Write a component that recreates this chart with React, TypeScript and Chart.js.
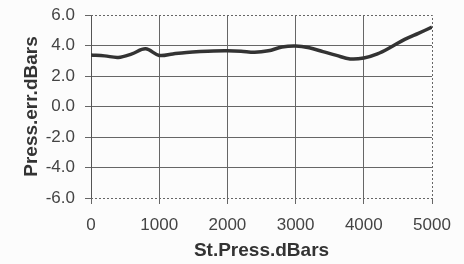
import React, { useEffect, useRef } from "react";
import { Chart, registerables } from "chart.js";

Chart.register(...registerables);

const stPress = [0, 200, 400, 600, 800, 1000, 1200, 1400, 1600, 1800, 2000, 2200, 2400, 2600, 2800, 3000, 3200, 3400, 3600, 3800, 4000, 4200, 4400, 4600, 4800, 5000];
const pressErr = [3.38, 3.32, 3.22, 3.45, 3.78, 3.35, 3.45, 3.54, 3.6, 3.64, 3.65, 3.62, 3.55, 3.65, 3.9, 3.97, 3.85, 3.6, 3.35, 3.12, 3.18, 3.45, 3.9, 4.4, 4.8, 5.2];
const xTitle = "St.Press.dBars";
const yTitle = "Press.err.dBars";

const borderPlugin = {
  id: "dottedBorder",
  beforeDraw(chart: any) {
    const ctx = chart.ctx;
    ctx.save();
    ctx.fillStyle = "#fcfcfc";
    ctx.fillRect(0, 0, chart.width, chart.height);
    ctx.restore();
  },
  afterDatasetsDraw(chart: any) {
    const { ctx, chartArea } = chart;
    const { left, right, top, bottom } = chartArea;
    ctx.save();
    ctx.strokeStyle = "#666";
    ctx.lineWidth = 1;
    ctx.setLineDash([2, 2]);
    ctx.beginPath();
    ctx.moveTo(left, top + 0.5);
    ctx.lineTo(right + 0.5, top + 0.5);
    ctx.lineTo(right + 0.5, bottom + 0.5);
    ctx.lineTo(left, bottom + 0.5);
    ctx.stroke();
    ctx.restore();
  },
};

export default function App() {
  const ref = useRef<HTMLCanvasElement | null>(null);
  useEffect(() => {
    if (!ref.current) return;
    const chart = new Chart(ref.current, {
      type: "line",
      data: {
        datasets: [
          {
            data: stPress.map((x, i) => ({ x, y: pressErr[i] })),
            borderColor: "#333",
            borderWidth: 3.5,
            pointRadius: 0,
            tension: 0.35,
            fill: false,
          },
        ],
      },
      options: {
        animation: false,
        responsive: false,
        layout: { padding: { left: 20, right: 32, top: 15, bottom: 2 } },
        plugins: { legend: { display: false }, tooltip: { enabled: false } },
        scales: {
          x: {
            type: "linear",
            min: 0,
            max: 5000,
            afterFit: (s: any) => { s.height = 64; s.paddingLeft = 0; s.paddingRight = 0; },
            ticks: { stepSize: 1000, color: "#444", padding: 11, font: { family: "Liberation Sans", size: 17 }, maxRotation: 0, callback: (v: any) => String(v) },
            grid: {
              color: (c: any) => (c.tick && (c.tick.value === 0 || c.tick.value === 5000) ? (c.tick.value === 0 ? "#555" : "rgba(0,0,0,0)") : "#666"),
              tickColor: "#666",
              tickLength: 6,
              lineWidth: 1,
            },
            border: { display: false },
            title: { display: true, text: xTitle, color: "#333", padding: 0, font: { family: "Liberation Sans", size: 19, weight: "bold" } },
          },
          y: {
            min: -6,
            max: 6,
            afterFit: (s: any) => { s.width = 71; s.paddingTop = 0; s.paddingBottom = 0; },
            ticks: { stepSize: 2, color: "#444", padding: 10, font: { family: "Liberation Sans", size: 17 }, callback: (v: any) => Number(v).toFixed(1) },
            grid: {
              color: (c: any) => (c.tick && (c.tick.value === 6 || c.tick.value === -6) ? "rgba(0,0,0,0)" : "#666"),
              tickColor: "#666",
              tickLength: 6,
              lineWidth: 1,
            },
            border: { display: true, color: "#555" },
            title: { display: true, text: yTitle, color: "#333", padding: 0, font: { family: "Liberation Sans", size: 19, weight: "bold" } },
          },
        },
      },
      plugins: [borderPlugin],
    });
    return () => chart.destroy();
  }, []);
  return (
    <div style={{ position: "fixed", left: 0, top: 0, width: 464, height: 264 }}>
      <canvas ref={ref} width={464} height={264} style={{ width: 464, height: 264 }} />
    </div>
  );
}
